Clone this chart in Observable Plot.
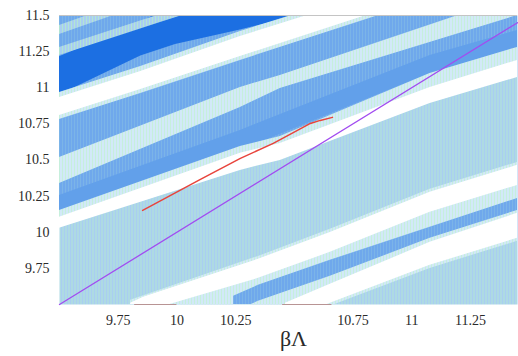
<!DOCTYPE html>
<html><head><meta charset="utf-8">
<script src="https://cdn.jsdelivr.net/npm/d3@7"></script>
<script src="https://cdn.jsdelivr.net/npm/@observablehq/plot@0.6"></script>
<style>
body{margin:0;background:#fff}
</style>
</head><body><div id="chart"></div>
<script>
// Axes
const xDomain = [9.5, 11.45];
const yDomain = [9.5, 11.5];
const xTicks = [9.75, 10, 10.25, 10.75, 11, 11.25];
const yTicks = [9.75, 10, 10.25, 10.5, 10.75, 11, 11.25, 11.5];
const xLabel = "βΛ";

// Contour bands (level category, x samples, upper and lower y edges), painted in order
const bandLevel = ["medium","mediumDark","pale","pale","white","dark","base","base","pale","white","pale","white","medium","white"];
const bandX = [
  [9.5, 10.27, 10.44, 11.078, 11.45],
  [9.5, 10.27, 11.078, 11.45],
  [9.5, 10.27, 10.44, 11.45],
  [9.5, 10.27, 10.44, 11.078, 11.45],
  [9.5, 10.27, 10.44, 11.078, 11.45],
  [9.5, 9.846, 9.994, 10.27, 10.525],
  [9.5, 9.803],
  [9.5, 9.93, 10.186],
  [9.5, 9.846, 10.27, 10.95],
  [9.5, 9.846, 10.27, 10.95],
  [9.803, 10.347, 10.653, 11.078, 11.45],
  [9.803, 9.858, 10.347, 10.653, 11.078, 11.45],
  [10.241, 10.347, 10.653, 11.078, 11.45],
  [10.462, 10.653, 11.078, 11.45]
];
const bandHi = [
  [12.7, 12.7, 12.7, 12.7, 12.7],
  [10.255, 10.705, 11.223, 11.396],
  [10.518, 11.002, 11.085, 11.638],
  [10.151, 10.594, 10.663, 11.099, 11.279],
  [10.103, 10.546, 10.615, 11.002, 11.189],
  [11.215, 11.452, 11.576, 11.742, 11.880],
  [11.431, 11.604],
  [11.279, 11.507, 11.638],
  [10.967, 11.147, 11.389, 11.735],
  [10.933, 11.113, 11.355, 11.701],
  [9.529, 9.833, 10.020, 10.297, 10.483],
  [9.508, 9.550, 9.813, 9.999, 10.276, 10.463],
  [9.557, 9.633, 9.806, 10.034, 10.234],
  [9.508, 9.640, 9.930, 10.131]
];
const bandLo = [
  [10.103, 10.546, 10.615, 11.002, 11.189],
  [10.138, 10.566, 11.099, 11.279],
  [10.338, 10.864, 10.995, 11.5],
  [10.068, 10.497, 10.566, 10.947, 11.133],
  [10.027, 10.428, 10.497, 10.891, 11.071],
  [10.950, 11.220, 11.300, 11.400, 11.500],
  [11.369, 11.541],
  [11.223, 11.452, 11.583],
  [10.781, 10.961, 11.189, 11.548],
  [10.808, 10.988, 11.216, 11.576],
  [9.322, 9.391, 9.488, 9.750, 9.937],
  [9.405, 9.446, 9.681, 9.861, 10.138, 10.324],
  [9.446, 9.522, 9.695, 9.958, 10.151],
  [9.391, 9.508, 9.771, 9.958]
];

// Diagonal reference (y = x)
const diagX = [9.5, 11.45];

// Red curve
const redX = [9.854, 10.100, 10.270, 10.410, 10.513, 10.568, 10.610, 10.662];
const redY = [10.151, 10.366, 10.511, 10.615, 10.705, 10.753, 10.774, 10.795];

// Small marks along the bottom edge
const edgeX1 = [9.82, 10.45];
const edgeX2 = [10.0, 10.66];

const levels = ["base","pale","medium","mediumDark","dark","white"];
const levelFill = ["url(#p-base)","url(#p-pale)","url(#p-med)","#62a0ea","#1c6fe2","#fdfeff"];

const bandMarks = bandLevel.map((lvl, i) => {
  const rows = bandX[i].map((x, j) => ({x, y1: bandLo[i][j], y2: bandHi[i][j], level: lvl}));
  return Plot.areaY(rows, {x: "x", y1: "y1", y2: "y2", fill: "level", clip: true});
});

const serif = "Liberation Serif";
const svg = Plot.plot({
  width: 518, height: 356,
  marginLeft: 59, marginRight: 1, marginTop: 15, marginBottom: 52,
  style: {fontFamily: serif, fontSize: "14px", color: "#2a2a2a", background: "#fff"},
  x: {domain: xDomain, ticks: xTicks, tickSize: 0, tickPadding: 11, tickFormat: d => `${d}`, label: null},
  y: {domain: yDomain, ticks: yTicks, tickSize: 0, tickPadding: 10, tickFormat: d => `${d}`, label: null},
  color: {domain: levels, range: levelFill},
  marks: [
    Plot.frame({fill: "url(#p-base)", stroke: "none"}),
    ...bandMarks,
    Plot.ruleY([yDomain[1]], {stroke: "#c4c4c4", strokeWidth: 1}),
    Plot.ruleY(edgeX1.map((x1, i) => ({x1, x2: edgeX2[i]})), {y: () => yDomain[0], x1: "x1", x2: "x2", stroke: "#b89494", strokeWidth: 1}),
    Plot.line(diagX, {x: d => d, y: d => d, stroke: "#a24cf0", strokeWidth: 1.3}),
    Plot.line(redX.map((x, i) => ({x, y: redY[i]})), {x: "x", y: "y", stroke: "#e8443c", strokeWidth: 1.5}),
    Plot.text([xLabel], {frameAnchor: "bottom", dy: 41, dx: 5, fontSize: 22, fill: "#2a2a2a"})
  ]
});

const ns = "http://www.w3.org/2000/svg";
const defs = document.createElementNS(ns, "defs");
defs.innerHTML =
  '<pattern id="p-base" width="3" height="4" patternUnits="userSpaceOnUse"><rect width="3" height="4" fill="#a9cef1"/><rect x="2" width="1" height="4" fill="#b2e5d4"/></pattern>' +
  '<pattern id="p-pale" width="3" height="4" patternUnits="userSpaceOnUse"><rect width="3" height="4" fill="#d2e9f8"/><rect x="2" width="1" height="4" fill="#c6efdc"/></pattern>' +
  '<pattern id="p-med" width="3" height="4" patternUnits="userSpaceOnUse"><rect width="3" height="4" fill="#6fa8ec"/><rect x="2" width="1" height="4" fill="#7bb4e8"/></pattern>';
svg.insertBefore(defs, svg.firstChild);
document.getElementById("chart").appendChild(svg);
</script>
</body></html>
